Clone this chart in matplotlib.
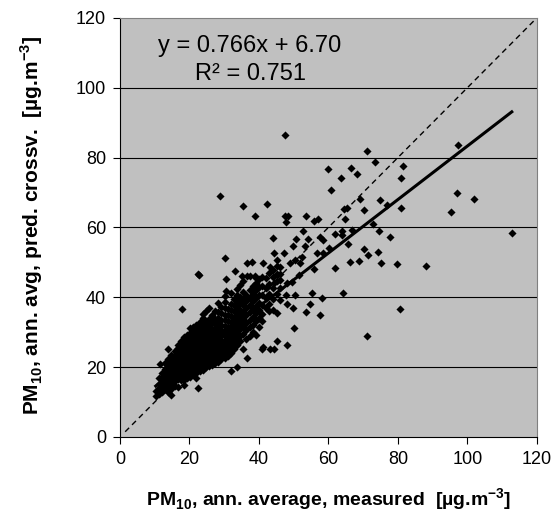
import matplotlib
matplotlib.use('Agg')
import matplotlib.pyplot as plt
import numpy as np

plt.rcParams['font.family'] = ['Liberation Sans', 'DejaVu Sans']
plt.rcParams['mathtext.fontset'] = 'custom'
plt.rcParams['mathtext.rm'] = 'Liberation Sans'
plt.rcParams['mathtext.bf'] = 'Liberation Sans:bold'

# dense core of the cloud, read column by column (measured x -> predicted y values)
core_x = [10.3, 11.2, 12.1, 13.0, 13.9, 14.8, 15.7, 16.6, 17.5, 18.4, 19.3, 20.2,
          21.1, 22.0, 22.9, 23.8, 24.7, 25.6, 26.5, 27.4, 28.3, 29.2, 30.1, 31.0,
          31.9, 32.8, 33.7, 34.6, 35.5, 36.4, 37.3, 38.2, 39.1, 40.0, 41.0, 42.1,
          43.0, 44.1, 45.2, 46.0]
core_y = [
    [11.8, 13.2],
    [12.4, 14.1, 15.3, 16.8],
    [13.0, 14.4, 15.8, 17.1, 18.3, 15.1],
    [13.6, 14.9, 16.2, 17.4, 18.6, 19.5, 21.2],
    [14.6, 15.7, 16.9, 18.1, 19.2, 20.4, 21.3, 12.9, 22.4],
    [15.2, 16.3, 17.4, 18.5, 19.6, 20.7, 21.8, 22.8, 23.6, 13.8, 11.9],
    [15.9, 17.0, 18.1, 19.2, 20.3, 21.4, 22.5, 23.4, 24.6, 14.6],
    [16.6, 17.7, 18.8, 19.9, 21.0, 22.1, 23.2, 24.3, 25.4, 26.2, 14.2],
    [17.4, 18.5, 19.6, 20.7, 21.8, 22.9, 24.0, 25.1, 26.2, 27.4, 16.2],
    [17.9, 19.0, 20.1, 21.2, 22.3, 23.4, 24.5, 25.6, 26.7, 27.8, 28.7, 16.4, 14.8],
    [18.4, 19.5, 20.6, 21.7, 22.8, 23.9, 25.0, 26.1, 27.2, 28.3, 29.2, 16.8],
    [18.9, 20.0, 21.1, 22.2, 23.3, 24.4, 25.5, 26.6, 27.7, 28.8, 29.9, 31.1, 17.3],
    [19.3, 20.4, 21.5, 22.6, 23.7, 24.8, 25.9, 27.0, 28.1, 29.2, 30.3, 31.5, 18.0],
    [19.8, 20.9, 22.0, 23.1, 24.2, 25.3, 26.4, 27.5, 28.6, 29.7, 30.8, 32.0, 18.2, 16.9],
    [20.2, 21.3, 22.4, 23.5, 24.6, 25.7, 26.8, 27.9, 29.0, 30.1, 31.2, 33.0, 18.9],
    [20.7, 21.8, 22.9, 24.0, 25.1, 26.2, 27.3, 28.4, 29.5, 30.6, 32.1, 34.0, 19.2, 35.3],
    [21.1, 22.2, 23.3, 24.4, 25.5, 26.6, 27.7, 28.8, 29.9, 31.0, 32.8, 36.1, 19.9],
    [21.6, 22.7, 23.8, 24.9, 26.0, 27.1, 28.2, 29.3, 30.4, 31.9, 33.7, 20.3, 36.9],
    [22.0, 23.1, 24.2, 25.3, 26.4, 27.5, 28.6, 29.7, 31.0, 32.6, 34.8, 20.6],
    [22.5, 23.6, 24.7, 26.2, 27.4, 28.5, 29.6, 30.8, 32.4, 33.9, 36.2, 21.1],
    [23.0, 24.3, 25.8, 27.1, 28.4, 29.8, 31.1, 32.5, 34.0, 35.9, 21.4, 38.3],
    [23.6, 25.0, 26.5, 27.9, 29.3, 30.7, 32.2, 33.6, 35.4, 37.2, 22.3],
    [24.1, 25.8, 27.4, 28.9, 30.3, 31.8, 33.4, 35.0, 36.8, 38.6, 22.6, 40.3],
    [24.9, 26.6, 28.3, 30.0, 31.6, 33.2, 34.9, 36.7, 23.1],
    [25.8, 27.6, 29.4, 31.2, 32.9, 34.6, 36.3, 38.1, 41.2, 24.0],
    [26.8, 28.7, 30.6, 32.4, 34.2, 36.0, 37.8, 39.4, 25.2],
    [27.9, 29.8, 31.7, 33.5, 35.3, 37.1, 38.9, 40.6, 26.3, 42.4],
    [28.8, 30.9, 32.8, 34.7, 36.5, 38.4, 40.1, 27.4, 43.5],
    [29.6, 31.8, 33.9, 35.9, 37.8, 39.6, 41.4, 25.1, 44.6],
    [30.5, 32.7, 34.8, 36.9, 38.9, 40.8, 28.2],
    [31.4, 33.6, 35.7, 37.8, 39.9, 42.0, 28.9, 46.1],
    [32.2, 34.5, 36.7, 38.8, 40.9, 43.1, 30.2],
    [33.1, 35.4, 37.6, 39.8, 42.0, 44.2, 29.3],
    [34.0, 36.3, 38.5, 40.7, 43.0, 45.3, 31.4],
    [35.2, 37.9, 40.6, 43.2, 45.8, 33.2],
    [36.8, 39.7, 42.6, 45.4],
    [38.1, 41.0, 43.9, 46.9, 36.2],
    [39.6, 42.8, 47.8],
    [41.0, 44.6, 48.9],
    [42.6, 46.8, 39.2],
]

# scattered points outside the core
out_x = [47.5, 71.0, 73.5, 60.0, 66.4, 68.3, 63.6, 81.6, 80.9, 97.4, 60.7, 28.7,
         96.9, 102.0, 95.2, 112.8, 69.1, 74.9, 76.8, 80.9, 70.3, 65.5, 64.6, 64.8,
         72.9, 42.2, 35.4, 38.9, 47.5, 48.3, 47.8, 53.6, 55.9, 56.9, 52.6, 44.0,
         50.6, 54.2, 49.9, 53.3, 57.6, 58.5, 63.8, 64.0, 66.7, 65.7, 74.7, 77.7,
         70.2, 71.5, 74.2, 66.2, 68.7, 75.1, 79.7, 88.0, 61.9, 64.3, 80.6, 71.0,
         58.5, 56.6, 30.2, 22.6, 22.8, 17.8, 22.6, 30.5, 30.4, 36.5, 37.9, 33.1,
         35.0, 36.5, 38.9, 39.3, 41.3, 43.2, 44.2, 45.1, 46.1, 47.3, 49.0, 50.4,
         51.8, 52.3, 44.0, 45.1, 46.1, 42.2, 44.2, 48.0, 49.4, 51.4, 47.7, 50.4,
         55.2, 58.1, 48.0, 49.7, 53.5, 54.7, 57.6, 44.0, 45.1, 50.2, 48.0, 40.8,
         41.3, 43.2, 44.2, 45.1, 36.5, 33.6, 31.9, 11.5, 13.7, 60.2, 62.0, 56.0]
out_y = [86.6, 81.9, 78.7, 76.6, 77.1, 75.4, 74.2, 77.7, 74.1, 83.6, 70.7, 69.1,
         69.9, 68.2, 64.5, 58.3, 68.2, 67.9, 66.4, 65.5, 65.0, 65.5, 65.2, 62.5,
         61.0, 66.7, 66.1, 63.4, 63.2, 63.2, 61.6, 63.4, 61.8, 62.3, 59.0, 57.1,
         56.8, 56.6, 54.6, 54.6, 57.4, 56.4, 59.0, 57.8, 59.3, 55.4, 59.1, 57.4,
         53.7, 52.1, 52.9, 50.2, 50.4, 49.9, 49.4, 49.1, 48.5, 41.1, 36.7, 29.0,
         52.6, 52.6, 51.3, 46.8, 46.4, 36.6, 14.1, 45.1, 41.9, 49.7, 50.1, 47.6,
         46.1, 46.1, 46.1, 45.4, 49.7, 48.8, 52.6, 50.7, 48.8, 52.6, 49.7, 50.7,
         49.7, 51.6, 45.9, 46.8, 44.9, 43.0, 44.0, 44.0, 44.5, 46.4, 40.8, 40.8,
         41.1, 39.7, 38.2, 37.0, 35.7, 38.0, 34.8, 36.3, 35.4, 31.1, 26.2, 25.1,
         25.8, 25.1, 25.3, 27.6, 22.5, 20.1, 18.8, 20.8, 25.3, 54.0, 58.0, 48.0]

slope = 0.766
intercept = 6.70
r2 = 0.751

x_all = np.concatenate([np.repeat(core_x, [len(c) for c in core_y]), out_x])
y_all = np.concatenate([np.concatenate(core_y), out_y])

fig = plt.figure(figsize=(5.58, 5.12), dpi=100)
ax = fig.add_axes([0.215, 0.1465, 0.747, 0.8185])
ax.set_facecolor('#c0c0c0')

for v in range(20, 120, 20):
    ax.axhline(v, color='black', lw=0.8, zorder=1)

ax.plot([1.5, 120], [1.5, 120], color='black', lw=1.0, ls=(0, (4, 3)), zorder=2)
ax.scatter(x_all, y_all, marker='D', s=17, color='black', linewidths=0, zorder=3)
xf = np.array([x_all.min(), x_all.max()])
ax.plot(xf, slope * xf + intercept, color='black', lw=2.2, zorder=4)

ax.text(0.092, 0.959, 'y = %.3fx + %.2f' % (slope, intercept), transform=ax.transAxes,
        fontsize=17, va='top', ha='left')
ax.text(0.18, 0.892, 'R² = %.3f' % r2, transform=ax.transAxes,
        fontsize=17, va='top', ha='left')

ax.set_xlim(0, 120)
ax.set_ylim(0, 120)
ax.set_xticks(range(0, 121, 20))
ax.set_yticks(range(0, 121, 20))
ax.tick_params(direction='out', length=5, width=0.8, labelsize=13, pad=5)
for s in ['top', 'right']:
    ax.spines[s].set_color('#808080')
for s in ['left', 'bottom']:
    ax.spines[s].set_color('black')

ax.set_xlabel(r'PM$_\mathbf{10}$, ann. average, measured  [µg.m$^\mathbf{-3}$]',
              fontsize=14, fontweight='bold')
ax.set_ylabel(r'PM$_\mathbf{10}$, ann. avg, pred. crossv.  [µg.m$^\mathbf{-3}$]',
              fontsize=15, fontweight='bold')
ax.xaxis.set_label_coords(0.5, -0.118)
ax.yaxis.set_label_coords(-0.18, 0.506)

fig.savefig('out.png', dpi=100)
